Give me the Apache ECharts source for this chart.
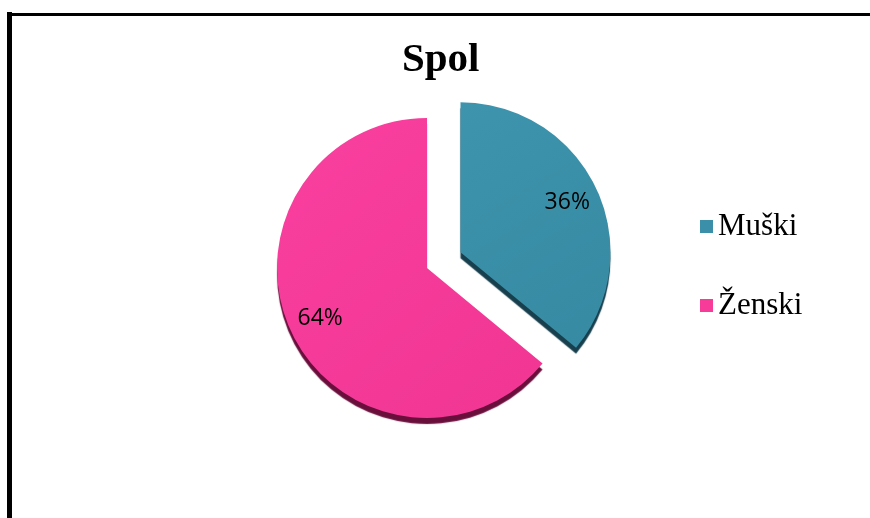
<!DOCTYPE html>
<html>
<head>
<meta charset="utf-8">
<script src="https://cdn.jsdelivr.net/npm/echarts@6/dist/echarts.min.js"></script>
<style>
  html, body { margin: 0; padding: 0; background: #fff; }
  #main { width: 870px; height: 518px; }
</style>
</head>
<body>
<div id="main"></div>
<script>
// podaci
var categories = ['Muški', 'Ženski'];
var values = [36, 64];
var colors = ['#3b8fa8', '#f63b98'];
var rimColors = ['#173f4d', '#6a0f3c'];
var gradTop = ['#3e94ad', '#fa40a0'];
var gradBottom = ['#368aa2', '#f03592'];

var chart = echarts.init(document.getElementById('main'));

// glavni krug
var pieData = categories.map(function (name, i) {
    return {
        name: name,
        value: values[i],
        selected: i === 0,
        itemStyle: {
            color: new echarts.graphic.LinearGradient(0, 0, 1, 1, [
                {offset: 0, color: gradTop[i]},
                {offset: 1, color: gradBottom[i]}
            ]),
            shadowColor: rimColors[i],
            shadowOffsetY: 6,
            shadowOffsetX: 0,
            shadowBlur: 1
        }
    };
});

// prsten samo za oznake (postotke)
var labelData = categories.map(function (name, i) {
    return {name: name, value: values[i], selected: i === 0};
});

var option = {
    backgroundColor: '#fff',
    animation: false,
    title: {
        text: 'Spol',
        left: 402,
        top: 40,
        padding: 0,
        textStyle: {
            fontFamily: 'Liberation Serif',
            fontWeight: 'bold',
            fontSize: 41,
            color: '#000'
        }
    },
    legend: {
        orient: 'vertical',
        left: 695,
        top: 206,
        itemGap: 48,
        itemWidth: 13,
        itemHeight: 13,
        icon: 'rect',
        data: categories.map(function (name, i) {
            return {name: name, itemStyle: {color: colors[i], shadowBlur: 0, shadowOffsetY: 0, shadowColor: 'transparent'}};
        }),
        textStyle: {
            fontFamily: 'Liberation Serif',
            fontSize: 31,
            lineHeight: 31,
            color: '#000'
        }
    },
    graphic: [
        {type: 'line', shape: {x1: 9.5, y1: 12, x2: 9.5, y2: 530}, style: {stroke: '#000', lineWidth: 5}},
        {type: 'line', shape: {x1: 7, y1: 14.5, x2: 880, y2: 14.5}, style: {stroke: '#000', lineWidth: 3}}
    ],
    series: [
        {
            name: 'Spol',
            type: 'pie',
            center: [427, 268],
            radius: [0, 150],
            startAngle: 90,
            clockwise: true,
            selectedMode: 'single',
            selectedOffset: 37,
            silent: true,
            label: {show: false},
            labelLine: {show: false},
            emphasis: {disabled: true},
            data: pieData
        },
        {
            name: 'oznake',
            type: 'pie',
            center: [427, 268],
            radius: [80, 150],
            startAngle: 90,
            clockwise: true,
            selectedMode: 'single',
            selectedOffset: 37,
            silent: true,
            z: 3,
            itemStyle: {color: 'rgba(0,0,0,0)'},
            emphasis: {disabled: true},
            labelLine: {show: false},
            label: {
                show: true,
                position: 'inside',
                formatter: '{d}%',
                fontFamily: 'Open Sans',
                fontSize: 23,
                color: '#000'
            },
            data: labelData
        }
    ]
};

chart.setOption(option);
</script>
</body>
</html>
